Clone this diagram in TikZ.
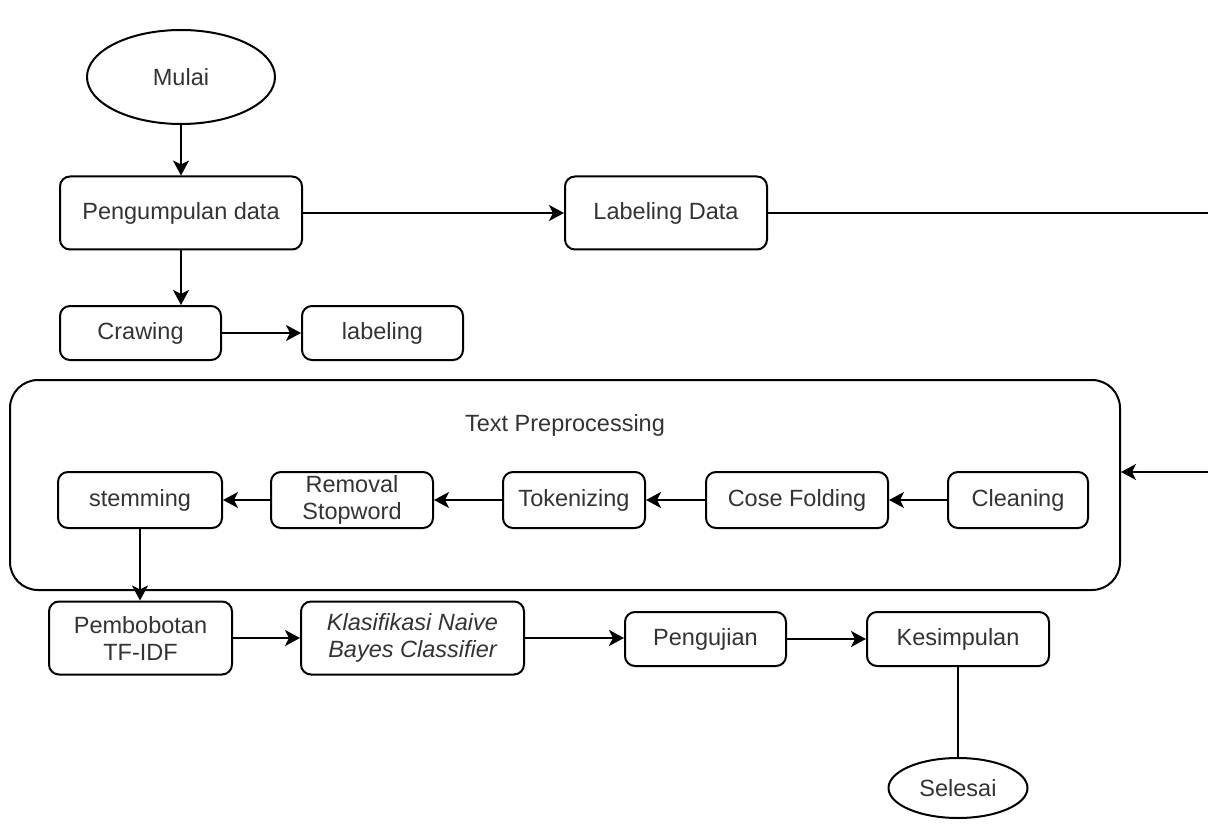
\documentclass[tikz,border=0pt]{standalone}
\usepackage{fontspec}
\setmainfont{Liberation Sans}
\usetikzlibrary{arrows.meta,positioning,shapes.geometric}

\tikzstyle{process} = [rectangle, rounded corners=10pt,
                      draw=black, line width=2pt,
                      inner sep=0pt,
                      align=center,
                      text=black!80,
                      font=\fontsize{23.5pt}{27pt}\selectfont]
\tikzstyle{terminal} = [ellipse, draw=black, line width=2pt,
                      inner sep=0pt,
                      text=black!80,
                      font=\fontsize{23.5pt}{27pt}\selectfont]
\tikzstyle{group} = [rectangle, rounded corners=28pt,
                      draw=black, line width=2pt]
\tikzstyle{flow} = [line width=2pt, -{Stealth[length=15pt,width=16pt,inset=4pt]}]
\tikzstyle{link} = [line width=2pt]

\begin{document}
\begin{tikzpicture}[x=1pt, y=-1pt]
  \useasboundingbox (0,0) rectangle (1208,837);

  \node (mulai) [terminal, minimum width=188, minimum height=94] at (181,77) {Mulai};

  \node (kumpul) [process, minimum width=242, minimum height=73] at (181,213) {Pengumpulan data};
  \node (labdata) [process, minimum width=202, minimum height=73] at (666,213) {Labeling Data};

  \node (crawing) [process, minimum width=161, minimum height=54] at (140.5,333) {Crawing};
  \node (labeling) [process, minimum width=161, minimum height=54] at (382.5,333) {labeling};

  % preprocessing group
  \node (prep) [group, minimum width=1110, minimum height=210] at (565,485) {};
  \node (prep-title) [terminal, draw=none] at (565,425) {Text Preprocessing};

  \node (stemming) [process, minimum width=164, minimum height=56] at (140,500) {stemming};
  \node (stopword) [process, minimum width=162, minimum height=56] at (352,500) {Removal\\Stopword};
  \node (token) [process, minimum width=142, minimum height=56] at (574,500) {Tokenizing};
  \node (folding) [process, minimum width=182, minimum height=56] at (797,500) {Cose Folding};
  \node (cleaning) [process, minimum width=140, minimum height=56] at (1018,500) {Cleaning};

  \node (bobot) [process, minimum width=183, minimum height=73] at (140.5,638) {Pembobotan\\TF-IDF};
  \node (nbc) [process, minimum width=223, minimum height=73, font=\fontsize{23.5pt}{27pt}\selectfont\itshape] at (412.5,638) {Klasifikasi Naive\\Bayes Classifier};
  \node (uji) [process, minimum width=161, minimum height=54] at (705.5,639) {Pengujian};
  \node (simpul) [process, minimum width=182, minimum height=54] at (958,639) {Kesimpulan};

  \node (selesai) [terminal, minimum width=139, minimum height=60] at (958,788) {Selesai};

  \coordinate (edge-top) at (1208,213);
  \coordinate (edge-mid) at (1208,472);

  \draw[flow] (mulai) to (kumpul);
  \draw[flow] (kumpul) to (labdata);
  \draw[link] (labdata) to (edge-top);
  \draw[flow] (edge-mid) to (edge-mid -| prep.east);

  \draw[flow] (kumpul.south) to (kumpul.south |- crawing.north);
  \draw[flow] (crawing) to (labeling);

  \draw[flow] (cleaning) to (folding);
  \draw[flow] (folding) to (token);
  \draw[flow] (token) to (stopword);
  \draw[flow] (stopword) to (stemming);

  \draw[flow] (stemming.south) to (stemming.south |- bobot.north);
  \draw[flow] (bobot) to (nbc);
  \draw[flow] (nbc) to (uji.west |- nbc);
  \draw[flow] (uji) to (simpul);
  \draw[link] (simpul) to (selesai);

\end{tikzpicture}
\end{document}
